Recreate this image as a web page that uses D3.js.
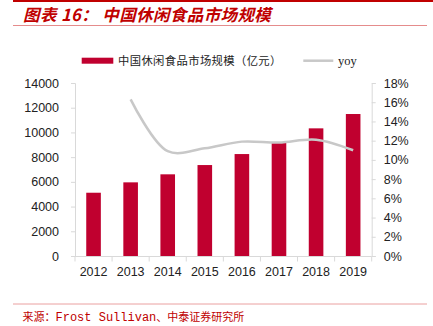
<!DOCTYPE html>
<html><head><meta charset="utf-8">
<script src="https://cdn.jsdelivr.net/npm/d3@7"></script>
<style>body{margin:0;background:#fff;}svg{display:block;}</style>
</head><body>
<svg id="c" width="433" height="326"></svg>
<script>
const years = ["2012","2013","2014","2015","2016","2017","2018","2019"];
const marketSize = [5120, 5960, 6610, 7360, 8250, 9170, 10330, 11490];
const yoy = [null, 16.3, 10.9, 11.2, 11.9, 11.8, 12.1, 11.0];
const leftTicks = [0,2000,4000,6000,8000,10000,12000,14000];
const rightTicks = [0,2,4,6,8,10,12,14,16,18];

const svg = d3.select("#c");
const red = "#c00000";
const barColor = "#c0002f";
const axisColor = "#d9d9d9";

// header
svg.append("line").attr("x1",13).attr("x2",433).attr("y1",1).attr("y2",1).attr("stroke",red).attr("stroke-width",2);
svg.append("text").attr("x",23).attr("y",21).attr("fill",red)
  .attr("font-family","'Noto Sans CJK SC'").attr("font-size",16.5).attr("font-weight","bold").attr("font-style","italic")
  .attr("letter-spacing",0.4)
  .text("图表 16： 中国休闲食品市场规模");
svg.append("line").attr("x1",13).attr("x2",427).attr("y1",25.5).attr("y2",25.5).attr("stroke","#e58c8c").attr("stroke-width",1);

// footer
svg.append("line").attr("x1",13).attr("x2",427).attr("y1",304).attr("y2",304).attr("stroke","#eaa0a0").attr("stroke-width",1);
const src = svg.append("text").attr("x",22.5).attr("y",320.5).attr("fill",red).attr("font-size",11);
src.append("tspan").attr("font-family","'Noto Sans CJK SC'").text("来源：");
src.append("tspan").attr("font-family","'Liberation Mono'").attr("font-size",12).text("Frost Sullivan");
src.append("tspan").attr("font-family","'Noto Sans CJK SC'").text("、中泰证券研究所");

// scales
const xb = d3.scaleBand().domain(years).range([75, 371.7]);
const yL = d3.scaleLinear().domain([0,14000]).range([256,83]);
const yR = d3.scaleLinear().domain([0,18]).range([256,83]);

// axes
const gL = svg.append("g").attr("transform","translate(75,0)")
  .call(d3.axisLeft(yL).tickValues(leftTicks).tickSize(4).tickPadding(12).tickFormat(d3.format("d")));
const gR = svg.append("g").attr("transform","translate(371.7,0)")
  .call(d3.axisRight(yR).tickValues(rightTicks).tickSize(4).tickPadding(8).tickFormat(d=>d+"%"));
const gX = svg.append("g").attr("transform","translate(0,256.5)")
  .call(d3.axisBottom(xb).tickSize(0).tickPadding(11));
[gL,gR,gX].forEach(g=>{
  g.selectAll("path").attr("stroke",axisColor);
  g.selectAll("line").attr("stroke",axisColor);
  g.selectAll("text").attr("font-family","'Liberation Sans', Arial").attr("font-size",12.5).attr("fill","#222");
});
gX.select("path").attr("d","M75,0H371.7");
gX.selectAll(".bt").data(d3.range(years.length+1)).enter().append("line")
  .attr("x1",i=>75+i*xb.step()).attr("x2",i=>75+i*xb.step()).attr("y1",0).attr("y2",5).attr("stroke",axisColor);

// bars
svg.append("g").selectAll("rect").data(years).enter().append("rect")
  .attr("x",d=>xb(d)+xb.bandwidth()/2-7.3).attr("width",14.6)
  .attr("y",(d,i)=>yL(marketSize[i])).attr("height",(d,i)=>yL(0)-yL(marketSize[i]))
  .attr("fill",barColor);

// yoy line
const pts = years.map((d,i)=>({x:xb(d)+xb.bandwidth()/2, v:yoy[i]})).filter(p=>p.v!=null);
svg.append("path").datum(pts)
  .attr("d",d3.line().x(p=>p.x).y(p=>yR(p.v)).curve(d3.curveCatmullRom.alpha(0.5)))
  .attr("fill","none").attr("stroke","#c8c8c8").attr("stroke-width",2.5);

// legend
svg.append("rect").attr("x",81.7).attr("y",57.7).attr("width",31.6).attr("height",6).attr("fill",barColor);
svg.append("text").attr("x",118).attr("y",64.8).attr("font-family","'Noto Sans CJK SC'").attr("font-size",11.3).attr("fill","#222")
  .attr("letter-spacing",0.4)
  .text("中国休闲食品市场规模（亿元）");
svg.append("line").attr("x1",303.3).attr("x2",333.3).attr("y1",60.7).attr("y2",60.7).attr("stroke","#c8c8c8").attr("stroke-width",2.5);
svg.append("text").attr("x",338).attr("y",64.5).attr("font-family","'Liberation Serif'").attr("font-size",12.5).attr("fill","#222").text("yoy");
</script>
</body></html>
